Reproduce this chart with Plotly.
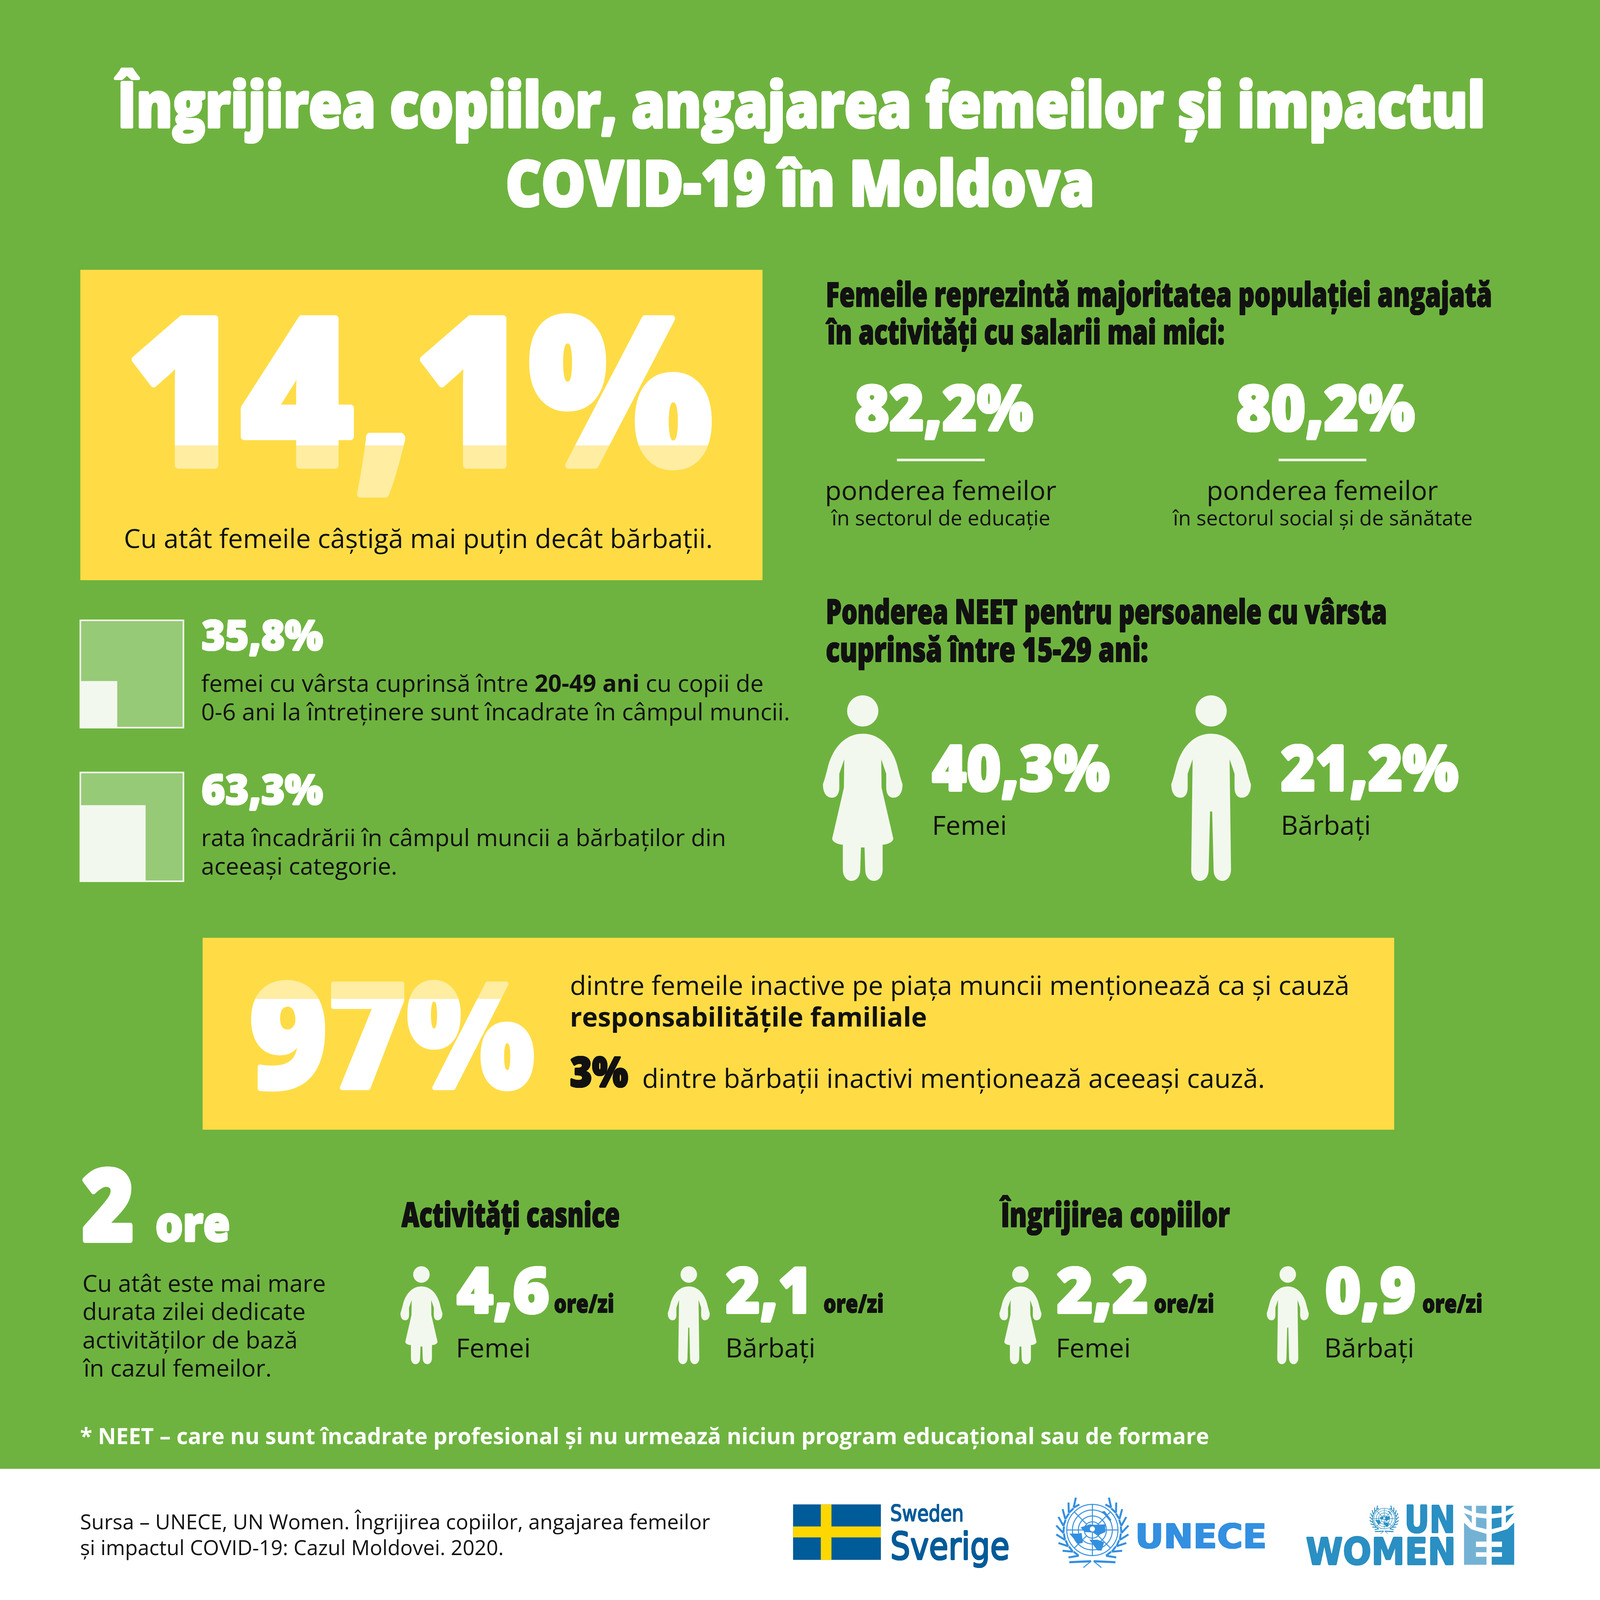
import json
import math

import plotly.graph_objects as go

# values
pay_gap = 14.1
salary_shares = [82.2, 80.2]
salary_labels = ["în sectorul de educație", "în sectorul social și de sănătate"]
employment = [35.8, 63.3]
neet_shares = [40.3, 21.2]
inactive_women = 97
inactive_men = 3
extra_hours = 2
hours_casnice = [4.6, 2.1]
hours_copii = [2.2, 0.9]
genders = ["Femei", "Bărbați"]

GREEN = "#6EB33F"
YELLOW = "#FFDC46"
WHITE = "#FFFFFF"
ICON = "#F3F8EE"
INK = "#111111"
BODY = "Open Sans"
LOGO = "DejaVu Sans"
UN_BLUE = "#338FE0"
UNW_DARK = "#2A8FC2"
UNW_LIGHT = "#74B2D4"
PAGE = 4096  # the browser window tops out here
K = 4501 / 1568  # preview units to axis units
W = PAGE / 1568  # preview units to page pixels


def pct(v):
    return f"{v:.1f}".replace(".", ",") + "%"


def fat(r, color):
    # thicken glyphs with a ring of hard shadows
    pts = []
    for i in range(16):
        a = i * math.pi / 8
        pts.append(f"{r * math.cos(a):.1f}px {r * math.sin(a):.1f}px 0 {color}")
    return ", ".join(pts)


fig = go.Figure()
shapes = []
notes = []
fit = {}  # text -> width on the page, squeezed after drawing


def rect(x0, y0, x1, y1, fill, line=None, width=0, layer="below", opacity=1):
    shapes.append(dict(type="rect", x0=x0, y0=y0, x1=x1, y1=y1, fillcolor=fill, opacity=opacity, layer=layer,
                       line=dict(color=line or "rgba(0,0,0,0)", width=width)))


def poly(points, fill):
    d = "M" + " L".join(f"{x:.1f} {y:.1f}" for x, y in points) + " Z"
    shapes.append(dict(type="path", path=d, fillcolor=fill, line=dict(width=0), layer="below"))


def seg(x0, y0, x1, y1, color, lw):
    shapes.append(dict(type="line", x0=x0, y0=y0, x1=x1, y1=y1, line=dict(color=color, width=lw), layer="below"))


def disc(cx, cy, r, fill=None, line=None, lw=0):
    shapes.append(dict(type="circle", x0=cx - r, x1=cx + r, y0=cy - r, y1=cy + r, fillcolor=fill or "rgba(0,0,0,0)",
                       line=dict(color=line or "rgba(0,0,0,0)", width=lw), layer="below"))


def txt(s, x, y, size, color=INK, family=BODY, weight=400, anchor="left", shadow=None, width=None):
    font = dict(family=family, size=size, color=color, weight=weight)
    if shadow:
        font["shadow"] = shadow
    notes.append(dict(text=s, x=x * K, y=y * K, xref="x", yref="y", showarrow=False, xanchor=anchor,
                      yanchor="middle", font=font, borderpad=0))
    if width:
        fit[s] = [width * W, anchor]


def heading(s, x, y, width):
    txt(s, x, y - 1.4, 86, INK, BODY, 800, shadow=fat(0.9, INK), width=width)


def stat(s, x, y, size, width, color=WHITE, r=3, anchor="left"):
    # Open Sans sits a little low in its line box
    txt(s, x, y - size * 0.015, size, color, BODY, 800, anchor, fat(r, color), width)


WOMAN = ("M0 108 C48 108 82 145 97 197 C106 235 112 250 112 250 C112 275 102 288 86 288 C74 288 66 278 66 260 "
         "L66 221 L52 180 L53 260 L86 403 C86 412 70 420 56 420 L56 490 C56 510 44 522 32 522 C18 522 7 510 7 490 "
         "L5 428 L-5 428 L-7 490 C-7 510 -18 522 -32 522 C-44 522 -56 510 -56 490 L-56 420 C-70 420 -86 412 -86 403 "
         "L-53 260 L-52 180 L-66 221 L-66 260 C-66 278 -74 288 -86 288 C-102 288 -112 275 -112 250 C-112 250 -106 235 "
         "-97 197 C-82 145 -48 108 0 108 Z")
MAN = ("M0 108 C48 108 82 145 97 197 C106 235 112 250 112 250 C112 275 102 288 86 288 C74 288 66 278 66 260 "
       "L66 221 L52 180 L56 490 C56 510 44 522 32 522 C18 522 7 510 7 490 L3 327 L-3 327 L-7 490 C-7 510 -18 522 "
       "-32 522 C-44 522 -56 510 -56 490 L-52 180 L-66 221 L-66 260 C-66 278 -74 288 -86 288 C-102 288 -112 275 "
       "-112 250 C-112 250 -106 235 -97 197 C-82 145 -48 108 0 108 Z")


def person(kind, cx, top, s=1.0):
    res, is_x = [], True
    for tok in kind.replace("M", "M ").replace("C", "C ").replace("L", "L ").split():
        if tok in "MCLZ":
            res.append(tok)
            is_x = True
        else:
            res.append(f"{cx + float(tok) * s:.1f}" if is_x else f"{top + float(tok) * s:.1f}")
            is_x = not is_x
    shapes.append(dict(type="path", path=" ".join(res), fillcolor=ICON, line=dict(width=0), layer="below"))
    disc(cx, top + 44 * s, 44 * s, ICON)


def emblem(cx, cy, r, color, lw):
    # globe, continents and laurel of the UN seal
    for f in [1, 0.78, 0.55, 0.32]:
        disc(cx, cy, r * f, None, color, lw)
    seg(cx, cy - r * 1.02, cx, cy + r * 1.02, color, lw)
    seg(cx - r * 1.02, cy, cx + r * 1.02, cy, color, lw)
    for a in [45, 135, 225, 315]:
        c, s = math.cos(math.radians(a)), math.sin(math.radians(a))
        seg(cx + c * r * 0.32, cy + s * r * 0.32, cx + c * r, cy + s * r, color, lw)
    blobs = [
        [(-0.46, -0.1), (-0.1, -0.22), (0.1, -0.2), (0.5, -0.22), (0.51, 0.08), (0.2, 0.22), (0.02, 0.1), (-0.3, 0.08)],
        [(-0.9, 0.14), (-0.55, 0.14), (-0.42, 0.12), (-0.37, 0.5), (-0.55, 0.54)],
        [(-0.12, 0.38), (0.2, 0.38), (0.46, 0.48), (0.36, 0.8), (0.2, 0.8)],
        [(0.37, -0.72), (0.48, -0.74), (0.74, -0.4), (0.7, -0.32)],
    ]
    for blob in blobs:
        poly([(cx + x * r, cy + y * r) for x, y in blob], color)
    disc(cx, cy - r * 0.04, r * 0.1, WHITE)
    for side in [-1, 1]:
        for a in range(40, 160, 14):
            t = math.radians(a)
            t2 = math.radians(a - 13)
            x0, y0 = math.sin(t) * r * 1.14, -math.cos(t) * r * 1.14
            seg(cx + side * x0, cy + y0, cx + side * math.sin(t2) * r * 1.42, cy - math.cos(t2) * r * 1.42, color, lw * 2)
            seg(cx + side * x0, cy + y0, cx + side * math.sin(t2) * r * 1.12, cy - math.cos(t2) * r * 1.12, color, lw * 2)
        seg(cx + side * r * 0.05, cy + r * 1.22, cx + side * r * 0.9, cy + r * 1.26, color, lw * 2.2)
        seg(cx + side * r * 0.05, cy + r * 1.22, cx + side * r * 0.35, cy + r * 1.47, color, lw)


def unw(points):
    # coordinates measured on the logo crop
    return [(3660 + x / 2.53, 4220 + y / 3) for x, y in points]


# panels
rect(0, 0, 4501, 4501, GREEN)
rect(0, 4132, 4501, 4501, WHITE)
rect(226, 759, 2145, 1632, YELLOW)
rect(570, 2638, 3922, 3178, YELLOW)

# title
stat("Îngrijirea copiilor, angajarea femeilor și impactul", 784, 103, 162, 1343, r=3, anchor="center")
stat("COVID-19 în Moldova", 784, 180, 162, 577, r=3, anchor="center")

# big numbers are traces so that the band shapes can sit on top of them
big_font = dict(family=BODY, color=WHITE, weight=800)
fig.add_trace(go.Scatter(x=[1180], y=[1165], mode="text", text=[pct(pay_gap)], textposition="middle center",
                         textfont=dict(size=530, shadow=fat(7, WHITE), **big_font), hoverinfo="skip"))
fig.add_trace(go.Scatter(x=[1102], y=[2958], mode="text", text=[f"{inactive_women}%"], textposition="middle center",
                         textfont=dict(size=375, shadow=fat(5, WHITE), **big_font), hoverinfo="skip"))
fit[pct(pay_gap)] = [575 * W, "center"]
fit[f"{inactive_women}%"] = [280 * W, "center"]
rect(340, 1253, 2010, 1400, YELLOW, layer="above", opacity=0.5)
rect(690, 2735, 1510, 2810, YELLOW, layer="above", opacity=0.5)
txt("Cu atât femeile câștigă mai puțin decât bărbații.", 410, 527, 68, anchor="center")

# employment squares, fill width follows the value
for val, y0, y1, fill_top, ty in [(employment[0], 1745, 2047, 1916, 623), (employment[1], 2173, 2479, 2265, 774)]:
    rect(226, y0, 516, y1, "#97CA77", ICON, 4)
    rect(226, fill_top, 226 + 290 * val / 100, y1, ICON)
    stat(pct(val), 197, ty, 106, 119, r=2)
txt("femei cu vârsta cuprinsă între <b>20-49 ani</b> cu copii de", 196.6, 669, 60.6)
txt("0-6 ani la întreținere sunt încadrate în câmpul muncii.", 196.6, 697, 60.6)
txt("rata încadrării în câmpul muncii a bărbaților din", 196.6, 820, 60.6)
txt("aceeași categorie.", 196.6, 848, 60.6)

# salaries
heading("Femeile reprezintă majoritatea populației angajată", 809, 289, 653)
heading("în activități cu salarii mai mici:", 809, 326, 391)
for val, lab, cx, cy in zip(salary_shares, salary_labels, [925, 1299], [922, 1296]):
    stat(pct(val), cx, 400, 162, 175, anchor="center")
    rect((cx - 46) * K, 449.5 * K, (cx + 40) * K, 452 * K, ICON)
    txt("ponderea femeilor", cy, 480, 68.2, anchor="center")
    txt(lab, cy, 507, 53, anchor="center")

# NEET
heading("Ponderea NEET pentru persoanele cu vârsta", 809, 600, 550)
heading("cuprinsă între 15-29 ani:", 809, 637, 316)
person(WOMAN, 2427, 1956)
person(MAN, 3407, 1956)
for val, g, x in zip(neet_shares, genders, [913, 1255]):
    stat(pct(val), x, 753, 162, 174)
    txt(g, x, 808, 68)

# inactive
txt("dintre femeile inactive pe piața muncii menționează ca și cauză", 558, 965, 68.1)
txt("<b>responsabilitățile familiale</b>", 558, 996, 68.1)
stat(f"{inactive_men}%", 558, 1051, 106, 57, color=INK, r=2)
txt("dintre bărbații inactivi menționează aceeași cauză.", 629, 1056, 68.1)

# hours
stat(str(extra_hours), 80, 1182, 255, 51, r=5)
stat("ore", 152, 1200, 122, 73, r=2.5)
for i, line in enumerate(["Cu atât este mai mare", "durata zilei dedicate", "activităților de bază", "în cazul femeilor."]):
    txt(line, 80.4, 1257 + i * 27.7, 60.8)
heading("Activități casnice", 393, 1191, 214)
heading("Îngrijirea copiilor", 979, 1191, 226)
person_x = [413, 675, 1000, 1262]
kinds = [WOMAN, MAN, WOMAN, MAN]
num_x = [447, 711, 1035, 1298]
num_w = [91, 85, 90, 89]
for val, g, px_, kind, x, w in zip(hours_casnice + hours_copii, genders * 2, person_x, kinds, num_x, num_w):
    person(kind, px_ * K, 3562, 0.528)
    stat(f"{val:.1f}".replace(".", ","), x, 1265, 162, w)
    txt("ore/zi", x + 95.5, 1277, 64, INK, BODY, 800, shadow=fat(0.6, INK), width=59)
    txt(g, x - 0.5, 1320, 68)

# footnotes
txt("* NEET – care nu sunt încadrate profesional și nu urmează niciun program educațional sau de formare",
    78, 1407, 56.9, WHITE, BODY, 700)
txt("Sursa – UNECE, UN Women. Îngrijirea copiilor, angajarea femeilor", 78, 1491, 53.1)
txt("și impactul COVID-19: Cazul Moldovei. 2020.", 78, 1516, 53.1)

# logos
rect(2231, 4232, 2478, 4388, "#005B99")
rect(2309, 4232, 2339, 4388, "#FFD700")
rect(2231, 4294, 2478, 4325, "#FFD700")
txt("Sweden", 2503 / K, 4257 / K, 57, "#005B99", LOGO, shadow=fat(0.8, "#005B99"), width=72)
txt("Sverige", 2503 / K, 4350 / K, 96, "#005B99", LOGO, shadow=fat(1.5, "#005B99"), width=117)
emblem(3073, 4304, 72, UN_BLUE, 2.5)
txt("UNECE", 3192 / K, 4322 / K, 86, UN_BLUE, LOGO, 700, shadow=fat(1.5, UN_BLUE), width=129)
emblem(3894, 4272, 29, UNW_DARK, 1.2)
txt("UN", 3949 / K, 4275 / K, 95, UNW_DARK, LOGO, 700, shadow=fat(1.5, UNW_DARK), width=50)
txt("WOMEN", 3672 / K, 4365 / K, 95, UNW_DARK, LOGO, 700, shadow=fat(1.5, UNW_DARK), width=147)
poly(unw([(1160, 190), (1210, 245), (1320, 285), (1320, 545), (1160, 545)]), UNW_LIGHT)
poly(unw([(1517, 190), (1467, 245), (1357, 285), (1357, 545), (1517, 545)]), UNW_DARK)
for y0, y1 in [(350, 395), (440, 478)]:
    poly(unw([(1245, y0), (1320, y0), (1320, y1), (1245, y1)]), WHITE)
    poly(unw([(1357, y0), (1430, y0), (1430, y1), (1357, y1)]), WHITE)
poly(unw([(1160, 48), (1215, 48), (1215, 97), (1160, 65)]), UNW_LIGHT)
poly(unw([(1245, 48), (1320, 48), (1320, 118), (1245, 108)]), UNW_LIGHT)
poly(unw([(1357, 48), (1427, 48), (1427, 108), (1357, 118)]), UNW_DARK)
poly(unw([(1458, 48), (1517, 48), (1458, 97)]), UNW_DARK)
poly(unw([(1160, 110), (1215, 133), (1215, 195)]), UNW_LIGHT)
poly(unw([(1245, 145), (1320, 155), (1320, 245), (1245, 225)]), UNW_LIGHT)
poly(unw([(1357, 155), (1427, 145), (1427, 225), (1357, 245)]), UNW_DARK)
poly(unw([(1458, 133), (1517, 110), (1458, 195)]), UNW_DARK)

fig.update_layout(
    width=PAGE, height=PAGE, margin=dict(l=0, r=0, t=0, b=0), showlegend=False,
    paper_bgcolor=GREEN, plot_bgcolor=GREEN, shapes=shapes, annotations=notes,
    xaxis=dict(range=[0, 4501], visible=False, fixedrange=True),
    yaxis=dict(range=[4501, 0], visible=False, fixedrange=True),
)

# squeeze the display type to the measured widths, there is no condensed black face installed
post = """
document.body.style.margin = '0';
var fit = %s;
document.querySelectorAll('text').forEach(function (t) {
  var f = fit[t.textContent];
  if (!f) return;
  t.style.transformBox = 'fill-box';
  t.style.transformOrigin = f[1] + ' center';
  t.style.transform = 'scaleX(' + f[0] / t.getBBox().width + ')';
});
""" % json.dumps(fit)
fig.write_html("out.html", config={"displayModeBar": False}, post_script=post)
